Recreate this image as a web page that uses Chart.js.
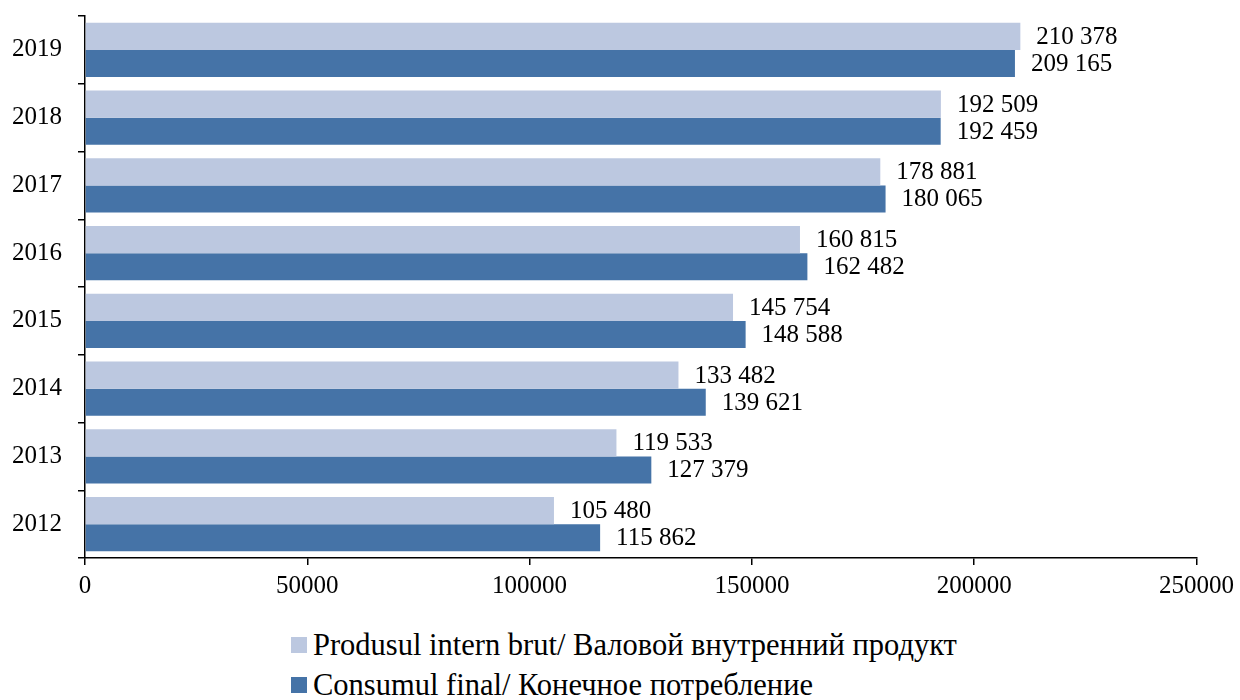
<!DOCTYPE html>
<html>
<head>
<meta charset="utf-8">
<script src="https://cdn.jsdelivr.net/npm/chart.js@4/dist/chart.umd.min.js"></script>
<style>
    body { margin: 0; background: #fff; font-family: "Liberation Serif", "Times New Roman", serif; }
    #wrap { position: relative; width: 1240px; height: 620px; }
    #legend { position: absolute; left: 291px; top: 625px; font-size: 30.5px; color: #000; }
    .item { display: flex; align-items: center; height: 40px; }
    .box { width: 16px; height: 16px; margin-right: 6px; }
</style>
</head>
<body>
<div id="wrap"><canvas id="gdpChart"></canvas></div>
<div id="legend"></div>
<script>
// Years, top to bottom as in the picture
const years = ['2019', '2018', '2017', '2016', '2015', '2014', '2013', '2012'];
const pibValues = [210378, 192509, 178881, 160815, 145754, 133482, 119533, 105480];
const consumValues = [209165, 192459, 180065, 162482, 148588, 139621, 127379, 115862];
const seriesNames = [
    'Produsul intern brut/ Валовой внутренний продукт',
    'Consumul final/ Конечное потребление'
];
const seriesColors = ['#BCC8E0', '#4573A7'];
const xTicks = [0, 50000, 100000, 150000, 200000, 250000];

const serif = '"Liberation Serif", "Times New Roman", serif';

function formatValue(num) {
    return String(num).replace(/\B(?=(\d{3})+(?!\d))/g, ' ');
}

// Value labels to the right of each bar
const barLabels = {
    id: 'barLabels',
    afterDatasetsDraw(chart) {
        const ctx = chart.ctx;
        ctx.save();
        ctx.font = '25px ' + serif;
        ctx.fillStyle = '#000';
        ctx.textBaseline = 'middle';
        ctx.textAlign = 'left';
        chart.data.datasets.forEach(function(ds, i) {
            chart.getDatasetMeta(i).data.forEach(function(bar, j) {
                ctx.fillText(formatValue(ds.data[j]), bar.x + 16, bar.y + 1);
            });
        });
        ctx.restore();
    }
};

const ctx = document.getElementById('gdpChart').getContext('2d');
const gdpChart = new Chart(ctx, {
    type: 'bar',
    data: {
        labels: years,
        datasets: [{
            label: seriesNames[0],
            data: pibValues,
            backgroundColor: seriesColors[0],
            borderWidth: 0
        }, {
            label: seriesNames[1],
            data: consumValues,
            backgroundColor: seriesColors[1],
            borderWidth: 0
        }]
    },
    options: {
        indexAxis: 'y',
        responsive: true,
        maintainAspectRatio: false,
        animation: false,
        categoryPercentage: 0.8,
        barPercentage: 1.0,
        layout: { padding: { top: 16, right: 42, left: 0, bottom: 0 } },
        plugins: {
            legend: { display: false },
            tooltip: { enabled: false }
        },
        scales: {
            x: {
                min: 0,
                max: 250000,
                afterBuildTicks: function(scale) {
                    scale.ticks = xTicks.map(v => ({ value: v }));
                },
                afterFit: function(scale) { scale.height = 62; },
                grid: { drawOnChartArea: false, drawTicks: true, tickLength: 7, color: '#000', lineWidth: 1.5 },
                border: { color: '#000', width: 1.5 },
                ticks: {
                    color: '#000',
                    font: { family: serif, size: 25 },
                    padding: 6,
                    maxRotation: 0,
                    callback: function(value) { return String(value); }
                }
            },
            y: {
                afterFit: function(scale) {
                    scale.width = 85;
                    scale.paddingTop = 0;
                    scale.paddingBottom = 0;
                },
                grid: { drawOnChartArea: false, drawTicks: true, tickLength: 7, color: '#000', lineWidth: 1.5, offset: true },
                border: { color: '#000', width: 1.5 },
                ticks: {
                    color: '#000',
                    font: { family: serif, size: 25 },
                    padding: 16
                }
            }
        }
    },
    plugins: [barLabels]
});

// Legend stacked vertically under the chart
let html = '';
seriesNames.forEach(function(name, i) {
    html += '<div class="item"><span class="box" style="background:' + seriesColors[i] + '"></span>' + name + '</div>';
});
document.getElementById('legend').innerHTML = html;
</script>
</body>
</html>
